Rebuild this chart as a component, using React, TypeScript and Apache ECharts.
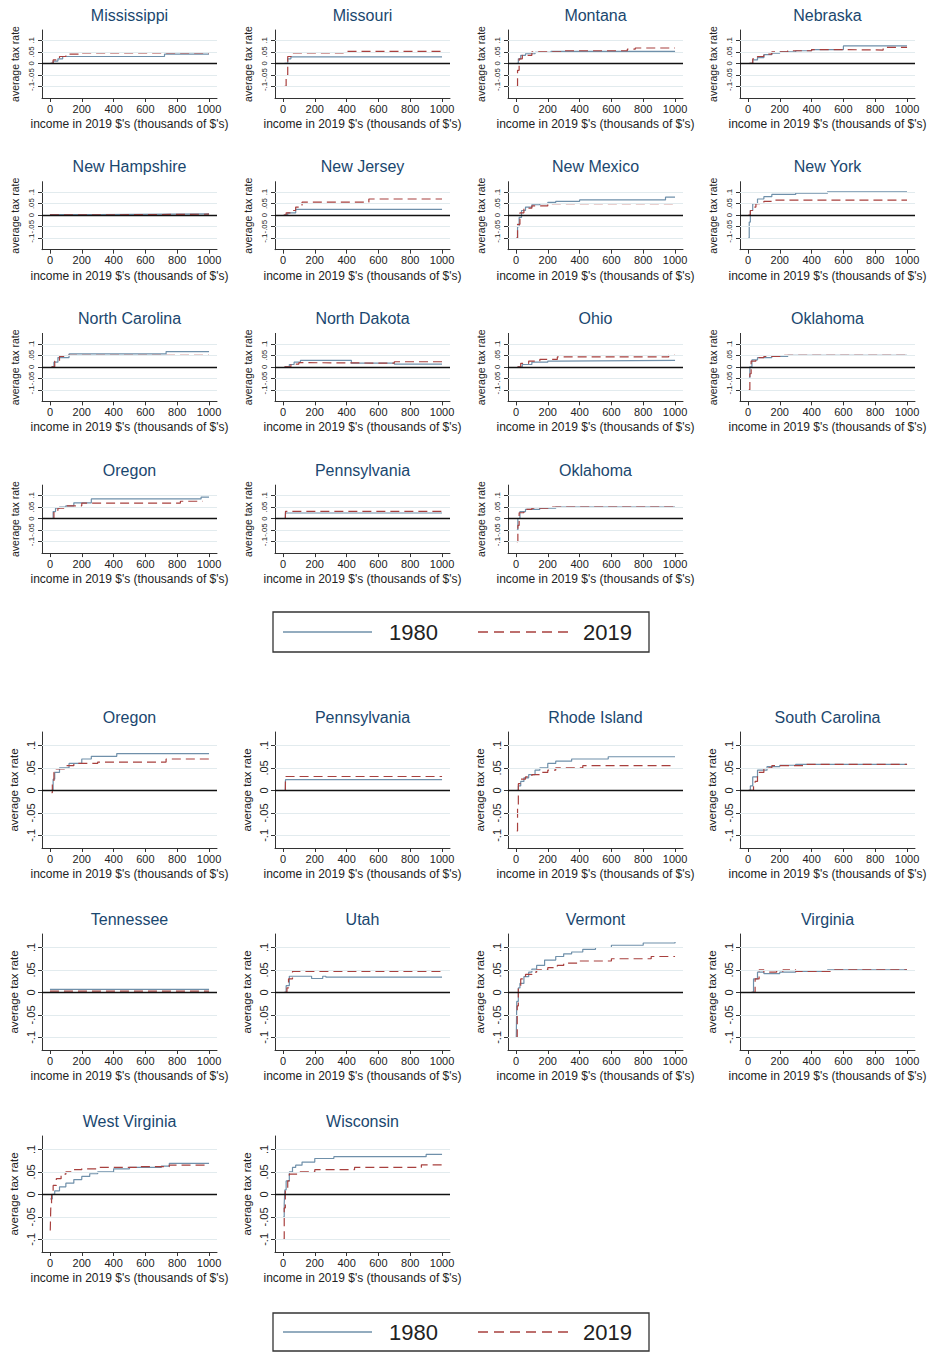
import React, { useEffect, useRef } from "react";
import * as echarts from "echarts";

// ---------- data: [income (thousands of 2019 $), average tax rate] ----------
const mississippi1980 = [[5, 0], [20, 0.01], [50, 0.02], [80, 0.03], [720, 0.04], [1000, 0.04]];
const mississippi2019 = [[5, 0], [20, 0.015], [40, 0.025], [60, 0.03], [100, 0.04], [180, 0.046], [1000, 0.046]];
const missouri1980 = [[10, 0], [30, 0.02], [50, 0.028], [1000, 0.028]];
const missouri2019 = [[10, -0.1], [20, -0.05], [30, 0.03], [60, 0.046], [380, 0.052], [1000, 0.052]];
const montana1980 = [[5, 0], [15, 0.02], [30, 0.035], [60, 0.042], [120, 0.048], [220, 0.052], [1000, 0.052]];
const montana2019 = [[5, -0.1], [10, -0.03], [20, 0.02], [40, 0.035], [100, 0.05], [300, 0.055], [700, 0.062], [750, 0.067], [1000, 0.067]];
const nebraska1980 = [[10, 0], [30, 0.015], [60, 0.025], [100, 0.038], [150, 0.045], [200, 0.05], [300, 0.055], [400, 0.06], [600, 0.076], [1000, 0.076]];
const nebraska2019 = [[10, 0], [30, 0.02], [60, 0.03], [100, 0.04], [150, 0.05], [250, 0.055], [400, 0.06], [600, 0.058], [850, 0.07], [1000, 0.07]];
const newHampshire1980 = [[0, 0.002], [300, 0.005], [1000, 0.005]];
const newHampshire2019 = [[0, 0.001], [320, 0.004], [1000, 0.004]];
const newJersey1980 = [[5, 0], [30, 0.01], [80, 0.025], [1000, 0.025]];
const newJersey2019 = [[5, 0], [20, 0.01], [50, 0.02], [80, 0.035], [120, 0.056], [540, 0.07], [1000, 0.07]];
const newMexico1980 = [[3, -0.1], [10, -0.05], [20, -0.01], [35, 0.02], [60, 0.035], [100, 0.045], [150, 0.05], [200, 0.055], [250, 0.06], [400, 0.066], [940, 0.078], [1000, 0.078]];
const newMexico2019 = [[3, -0.1], [10, -0.04], [25, 0.01], [50, 0.03], [100, 0.04], [200, 0.05], [1000, 0.05]];
const newYork1980 = [[2, -0.1], [8, -0.03], [15, 0.02], [30, 0.05], [60, 0.07], [100, 0.08], [150, 0.09], [300, 0.095], [500, 0.101], [1000, 0.101]];
const newYork2019 = [[3, 0], [15, 0.02], [30, 0.035], [50, 0.05], [100, 0.06], [150, 0.065], [1000, 0.065]];
const northCarolina1980 = [[10, 0], [25, 0.02], [50, 0.04], [120, 0.056], [730, 0.066], [1000, 0.066]];
const northCarolina2019 = [[10, 0], [30, 0.025], [60, 0.045], [100, 0.05], [1000, 0.05]];
const northDakota1980 = [[10, 0], [40, 0.01], [70, 0.02], [110, 0.028], [430, 0.016], [700, 0.012], [1000, 0.012]];
const northDakota2019 = [[10, 0], [50, 0.012], [100, 0.018], [150, 0.016], [700, 0.022], [1000, 0.022]];
const ohio1980 = [[10, 0], [40, 0.01], [100, 0.02], [200, 0.025], [260, 0.028], [1000, 0.028]];
const ohio2019 = [[10, 0], [30, 0.015], [80, 0.025], [150, 0.032], [260, 0.043], [960, 0.05], [1000, 0.05]];
const oklahoma1980 = [[5, -0.05], [12, 0], [25, 0.03], [60, 0.04], [150, 0.045], [250, 0.05], [1000, 0.05]];
const oklahoma2019 = [[5, -0.1], [12, -0.03], [20, 0.025], [50, 0.04], [100, 0.045], [220, 0.05], [1000, 0.05]];
const oregonA1980 = [[10, 0], [20, 0.03], [35, 0.045], [60, 0.05], [100, 0.055], [150, 0.068], [260, 0.085], [950, 0.093], [1000, 0.093]];
const oregonA2019 = [[10, 0], [25, 0.035], [50, 0.045], [100, 0.055], [200, 0.067], [820, 0.075], [960, 0.075]];
const pennsylvania1980 = [[15, 0], [16, 0.024], [1000, 0.024]];
const pennsylvania2019 = [[15, 0], [16, 0.031], [1000, 0.031]];
const oregonB1980 = [[10, 0], [20, 0.025], [30, 0.04], [60, 0.05], [120, 0.06], [200, 0.07], [260, 0.076], [420, 0.082], [1000, 0.082]];
const oregonB2019 = [[10, -0.005], [15, 0.02], [25, 0.04], [40, 0.048], [100, 0.055], [150, 0.06], [300, 0.063], [730, 0.07], [1000, 0.07]];
const rhodeIsland1980 = [[5, 0], [15, 0.01], [30, 0.02], [50, 0.028], [80, 0.035], [120, 0.045], [150, 0.05], [200, 0.06], [250, 0.065], [350, 0.07], [580, 0.075], [1000, 0.075]];
const rhodeIsland2019 = [[5, -0.09], [10, -0.04], [15, 0.015], [30, 0.025], [60, 0.03], [100, 0.035], [150, 0.04], [200, 0.045], [250, 0.05], [420, 0.055], [1000, 0.055]];
const southCarolina1980 = [[5, 0], [15, 0.01], [30, 0.03], [60, 0.045], [120, 0.053], [200, 0.056], [300, 0.058], [1000, 0.058]];
const southCarolina2019 = [[5, 0], [35, 0.01], [45, 0.02], [60, 0.04], [100, 0.05], [150, 0.055], [350, 0.058], [1000, 0.058]];
const tennessee1980 = [[0, 0.007], [1000, 0.007]];
const tennessee2019 = [[0, 0.003], [1000, 0.003]];
const utah1980 = [[10, 0], [20, 0.015], [40, 0.036], [180, 0.031], [250, 0.036], [270, 0.034], [1000, 0.034]];
const utah2019 = [[10, 0], [25, 0.01], [35, 0.03], [60, 0.047], [1000, 0.047]];
const vermont1980 = [[2, -0.1], [5, -0.02], [15, 0.01], [25, 0.02], [50, 0.035], [80, 0.045], [100, 0.052], [130, 0.06], [180, 0.072], [250, 0.08], [300, 0.086], [350, 0.09], [420, 0.096], [500, 0.1], [600, 0.105], [800, 0.11], [1000, 0.112]];
const vermont2019 = [[2, -0.1], [8, -0.03], [15, 0.01], [30, 0.03], [60, 0.04], [100, 0.045], [130, 0.05], [200, 0.055], [260, 0.06], [300, 0.065], [400, 0.07], [600, 0.075], [850, 0.08], [1000, 0.08]];
const virginia1980 = [[20, 0], [35, 0.03], [60, 0.045], [100, 0.042], [200, 0.045], [300, 0.047], [500, 0.05], [1000, 0.05]];
const virginia2019 = [[25, 0], [45, 0.03], [70, 0.05], [100, 0.045], [180, 0.047], [220, 0.05], [300, 0.047], [520, 0.05], [1000, 0.05]];
const westVirginia1980 = [[2, -0.01], [15, 0], [30, 0.008], [60, 0.017], [100, 0.025], [150, 0.033], [200, 0.04], [250, 0.046], [300, 0.05], [400, 0.057], [500, 0.06], [700, 0.063], [750, 0.069], [1000, 0.069]];
const westVirginia2019 = [[2, -0.08], [5, -0.03], [10, 0], [20, 0.02], [40, 0.035], [70, 0.045], [100, 0.05], [150, 0.055], [200, 0.057], [300, 0.06], [550, 0.062], [750, 0.065], [1000, 0.065]];
const wisconsin1980 = [[2, -0.05], [8, -0.02], [12, 0.01], [20, 0.03], [40, 0.05], [60, 0.06], [80, 0.065], [120, 0.072], [200, 0.08], [320, 0.084], [900, 0.089], [1000, 0.089]];
const wisconsin2019 = [[2, -0.1], [8, -0.03], [15, 0.01], [30, 0.03], [40, 0.045], [100, 0.05], [200, 0.055], [450, 0.06], [870, 0.066], [1000, 0.068]];

const topTitles = ["Mississippi", "Missouri", "Montana", "Nebraska", "New Hampshire", "New Jersey", "New Mexico", "New York", "North Carolina", "North Dakota", "Ohio", "Oklahoma", "Oregon", "Pennsylvania", "Oklahoma"];
const top1980 = [mississippi1980, missouri1980, montana1980, nebraska1980, newHampshire1980, newJersey1980, newMexico1980, newYork1980, northCarolina1980, northDakota1980, ohio1980, oklahoma1980, oregonA1980, pennsylvania1980, oklahoma1980];
const top2019 = [mississippi2019, missouri2019, montana2019, nebraska2019, newHampshire2019, newJersey2019, newMexico2019, newYork2019, northCarolina2019, northDakota2019, ohio2019, oklahoma2019, oregonA2019, pennsylvania2019, oklahoma2019];

const bottomTitles = ["Oregon", "Pennsylvania", "Rhode Island", "South Carolina", "Tennessee", "Utah", "Vermont", "Virginia", "West Virginia", "Wisconsin"];
const bottom1980 = [oregonB1980, pennsylvania1980, rhodeIsland1980, southCarolina1980, tennessee1980, utah1980, vermont1980, virginia1980, westVirginia1980, wisconsin1980];
const bottom2019 = [oregonB2019, pennsylvania2019, rhodeIsland2019, southCarolina2019, tennessee2019, utah2019, vermont2019, virginia2019, westVirginia2019, wisconsin2019];

const xTicks = [0, 200, 400, 600, 800, 1000];
const yTicks = [-0.1, -0.05, 0, 0.05, 0.1];
const gridValues = [-0.1, -0.05, 0.05, 0.1];
const seriesNames = ["1980", "2019"];
const xTitle = "income in 2019 $'s (thousands of $'s)";
const yTitle = "average tax rate";

// ---------- styling / layout ----------
const FONT = '"Liberation Sans", Arial, Helvetica, sans-serif';
const C1980 = "#6f90aa";
const C2019 = "#a8403e";
const TITLE_C = "#1a476f";
const AXIS_C = "#333333";
const GRID_C = "#e2ebee";
const COL_LEFT = [42, 275, 508, 740];
const PLOT_W = 175;

const sections = [
  { titles: topTitles, a: top1980, b: top2019, top0: 30, step: 151.7, h: 68, ymin: -0.15, ymax: 0.145, yTitleSize: 10.5, yLabelSize: 7.9, yLabelMargin: 7 },
  { titles: bottomTitles, a: bottom1980, b: bottom2019, top0: 732, step: 202, h: 116, ymin: -0.128, ymax: 0.13, yTitleSize: 11.5, yLabelSize: 11, yLabelMargin: 6 },
];

const legendBoxes = [
  { y: 612, h: 40 },
  { y: 1313, h: 38 },
];

function fmtY(v: number) {
  if (Math.abs(v) < 1e-9) return "0";
  const s = String(Math.round(Math.abs(v) * 1000) / 1000).replace(/^0/, "");
  return (v < 0 ? "-" : "") + s;
}

function buildOption() {
  const grid: any[] = [];
  const xAxis: any[] = [];
  const yAxis: any[] = [];
  const series: any[] = [];
  const graphic: any[] = [];

  sections.forEach((sec) => {
    sec.titles.forEach((title, i) => {
      const col = i % 4;
      const row = Math.floor(i / 4);
      const left = COL_LEFT[col];
      const top = sec.top0 + sec.step * row;
      const idx = grid.length;
      grid.push({ left, top, width: PLOT_W, height: sec.h, containLabel: false, outerBoundsMode: "none" });
      xAxis.push({
        type: "value",
        gridIndex: idx,
        min: -50,
        max: 1050,
        name: xTitle,
        nameLocation: "middle",
        nameGap: 20,
        nameTextStyle: { fontFamily: FONT, fontSize: 12, color: "#222" },
        axisLine: { show: true, onZero: false, lineStyle: { color: AXIS_C, width: 1 } },
        axisTick: { show: true, length: 4, customValues: xTicks, lineStyle: { color: AXIS_C } },
        axisLabel: {
          customValues: xTicks,
          hideOverlap: false,
          showMinLabel: true,
          showMaxLabel: true,
          margin: 5,
          fontFamily: FONT,
          fontSize: 11,
          color: "#222",
          formatter: (v: number) => String(Math.round(v)),
        },
        splitLine: { show: false },
      });
      yAxis.push({
        type: "value",
        gridIndex: idx,
        min: sec.ymin,
        max: sec.ymax,
        name: yTitle,
        nameLocation: "middle",
        nameRotate: 90,
        nameGap: 22,
        nameTextStyle: { fontFamily: FONT, fontSize: sec.yTitleSize, color: "#222" },
        axisLine: { show: true, onZero: false, lineStyle: { color: AXIS_C, width: 1 } },
        axisTick: { show: true, length: 4, customValues: yTicks, lineStyle: { color: AXIS_C } },
        axisLabel: {
          customValues: yTicks,
          hideOverlap: false,
          showMinLabel: true,
          showMaxLabel: true,
          rotate: 90,
          margin: sec.yLabelMargin,
          fontFamily: FONT,
          fontSize: sec.yLabelSize,
          color: "#222",
          formatter: (v: number) => fmtY(v),
        },
        splitLine: { show: false },
      });
      series.push({
        type: "line",
        xAxisIndex: idx,
        yAxisIndex: idx,
        data: [],
        silent: true,
        z: 1,
        markLine: {
          silent: true,
          symbol: "none",
          label: { show: false },
          animation: false,
          data: [
            ...gridValues.map((v) => ({ yAxis: v, lineStyle: { color: GRID_C, width: 1, type: "solid" } })),
            { yAxis: 0, lineStyle: { color: "#111", width: 1.3, type: "solid" } },
          ],
        },
      });
      series.push({
        type: "line",
        name: seriesNames[0],
        xAxisIndex: idx,
        yAxisIndex: idx,
        data: sec.a[i],
        step: "end",
        showSymbol: false,
        symbol: "none",
        z: 3,
        lineStyle: { color: C1980, width: 1.2 },
      });
      series.push({
        type: "line",
        name: seriesNames[1],
        xAxisIndex: idx,
        yAxisIndex: idx,
        data: sec.b[i],
        step: "end",
        showSymbol: false,
        symbol: "none",
        z: 4,
        lineStyle: { color: C2019, width: 1.2, type: [9, 5] },
      });
      graphic.push({
        type: "text",
        x: left + PLOT_W / 2,
        y: top - 15,
        style: { text: title, fill: TITLE_C, fontFamily: FONT, fontSize: 16, textAlign: "center", textVerticalAlign: "middle" },
      });
    });
  });

  legendBoxes.forEach((b) => {
    const cy = b.y + b.h / 2;
    graphic.push({ type: "rect", shape: { x: 273, y: b.y, width: 376, height: b.h }, style: { fill: "#fff", stroke: "#333", lineWidth: 1.3 } });
    graphic.push({ type: "line", shape: { x1: 283, y1: cy, x2: 372, y2: cy }, style: { stroke: C1980, lineWidth: 1.3 } });
    graphic.push({ type: "text", x: 389, y: cy, style: { text: seriesNames[0], fill: "#222", fontFamily: FONT, fontSize: 22, textAlign: "left", textVerticalAlign: "middle" } });
    graphic.push({ type: "line", shape: { x1: 478, y1: cy, x2: 570, y2: cy }, style: { stroke: C2019, lineWidth: 1.5, lineDash: [10, 6] } });
    graphic.push({ type: "text", x: 583, y: cy, style: { text: seriesNames[1], fill: "#222", fontFamily: FONT, fontSize: 22, textAlign: "left", textVerticalAlign: "middle" } });
  });

  return {
    animation: false,
    backgroundColor: "#ffffff",
    grid,
    xAxis,
    yAxis,
    series,
    graphic,
  };
}

export default function App() {
  const ref = useRef<HTMLDivElement>(null);
  useEffect(() => {
    if (!ref.current) return;
    const chart = echarts.init(ref.current, undefined, { renderer: "svg" });
    chart.setOption(buildOption() as any);
    return () => chart.dispose();
  }, []);
  return (
    <div
      ref={ref}
      style={{ position: "absolute", left: 0, top: 0, width: 930, height: 1352, background: "#fff" }}
    />
  );
}
